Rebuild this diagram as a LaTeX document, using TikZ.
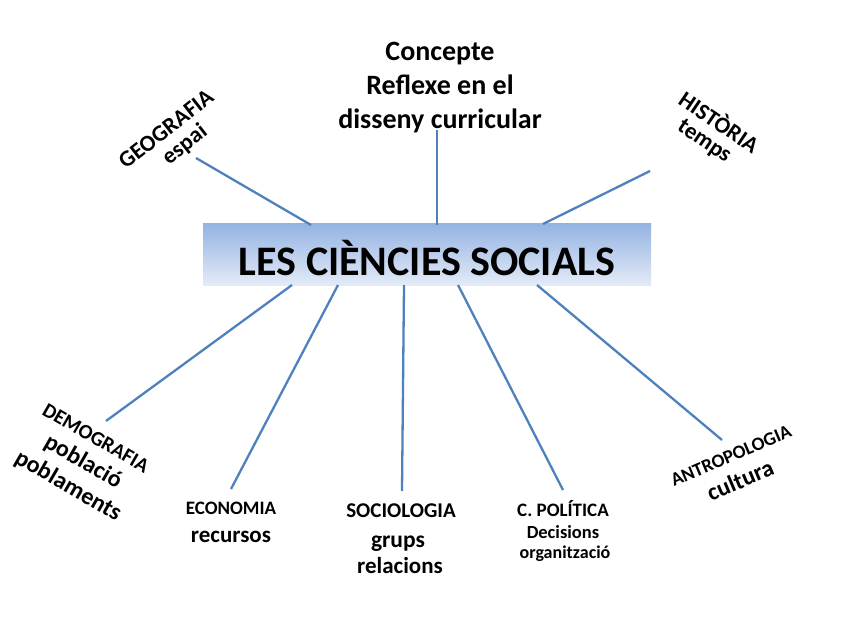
\documentclass[tikz,border=0pt]{standalone}
\usepackage{fontspec}
\setmainfont{Carlito}
\begin{document}
\begin{tikzpicture}[x=1pt,y=-1pt,
  conn/.style={draw=lineblue,line width=2.3pt},
  lbl/.style={font=\bfseries,align=center,inner sep=0pt}]
\definecolor{lineblue}{HTML}{4F81BD}
\definecolor{boxtop}{HTML}{95B3E3}
\definecolor{boxbot}{HTML}{E3EBF7}
\useasboundingbox (0,0) rectangle (848,636);
\fill[white] (0,0) rectangle (848,636);
% central box
\shade[top color=boxtop,bottom color=boxbot] (203,224) rectangle (651,285);
\node[lbl,font=\bfseries\fontsize{42}{46}\selectfont] (main) at (427,258) {LES CIÈNCIES SOCIALS};
\coordinate (b1) at (311,225);
\coordinate (b2) at (437,225);
\coordinate (b3) at (543,224);
\coordinate (b4) at (292,285);
\coordinate (b5) at (338,285);
\coordinate (b6) at (404,285);
\coordinate (b7) at (458,285);
\coordinate (b8) at (537,285);
% end coordinates
\coordinate (e1) at (196,158);
\coordinate (e2) at (437,130);
\coordinate (e3) at (650,171);
\coordinate (e4) at (106,421);
\coordinate (e5) at (231,489);
\coordinate (e6) at (402,491);
\coordinate (e7) at (563,490);
\coordinate (e8) at (722,440);
\foreach \i in {1,...,8} {\draw[conn] (b\i) -- (e\i);}
% labels
\node[lbl,font=\bfseries\fontsize{28}{34}\selectfont] (conc) at (440,88) {Concepte\\Reflexe en el\\disseny curricular};
\node[lbl,font=\bfseries\fontsize{23}{26}\selectfont,rotate=38] (geo) at (166,129) {GEOGRAFIA};
\node[lbl,font=\bfseries\fontsize{23}{26}\selectfont,rotate=38] (espai) at (185,145) {espai};
\node[lbl,font=\bfseries\fontsize{23}{26}\selectfont,rotate=-34] (hist) at (720,121) {HISTÒRIA};
\node[lbl,font=\bfseries\fontsize{23}{26}\selectfont,rotate=-34] (temps) at (704,142) {temps};
\node[lbl,font=\bfseries\fontsize{20.5}{24}\selectfont,rotate=-30] (demo) at (96,438) {DEMOGRAFIA};
\node[lbl,font=\bfseries\fontsize{24}{26}\selectfont,rotate=-30] (pobl) at (83,462) {població};
\node[lbl,font=\bfseries\fontsize{24}{26}\selectfont,rotate=-30] (poblm) at (68,486) {poblaments};
\node[lbl,font=\bfseries\fontsize{19}{22}\selectfont,rotate=23] (antro) at (731,456) {ANTROPOLOGIA};
\node[lbl,font=\bfseries\fontsize{24}{26}\selectfont,rotate=23] (cult) at (740,480) {cultura};
\node[lbl,font=\bfseries\fontsize{19}{21}\selectfont] (eco) at (231,508) {ECONOMIA};
\node[lbl,font=\bfseries\fontsize{23}{25}\selectfont] (rec) at (231,537) {recursos};
\node[lbl,font=\bfseries\fontsize{21}{23}\selectfont] (soc) at (401,511) {SOCIOLOGIA};
\node[lbl,font=\bfseries\fontsize{23.5}{25}\selectfont] (grups) at (398,544) {grups};
\node[lbl,font=\bfseries\fontsize{23}{25}\selectfont] (rel) at (400,566) {relacions};
\node[lbl,font=\bfseries\fontsize{19}{21}\selectfont] (pol) at (563,509) {C. POLÍTICA};
\node[lbl,font=\bfseries\fontsize{18.5}{20}\selectfont] (dec) at (563,532) {Decisions};
\node[lbl,font=\bfseries\fontsize{18}{20}\selectfont] (org) at (565,554) {organització};
\end{tikzpicture}
\end{document}
